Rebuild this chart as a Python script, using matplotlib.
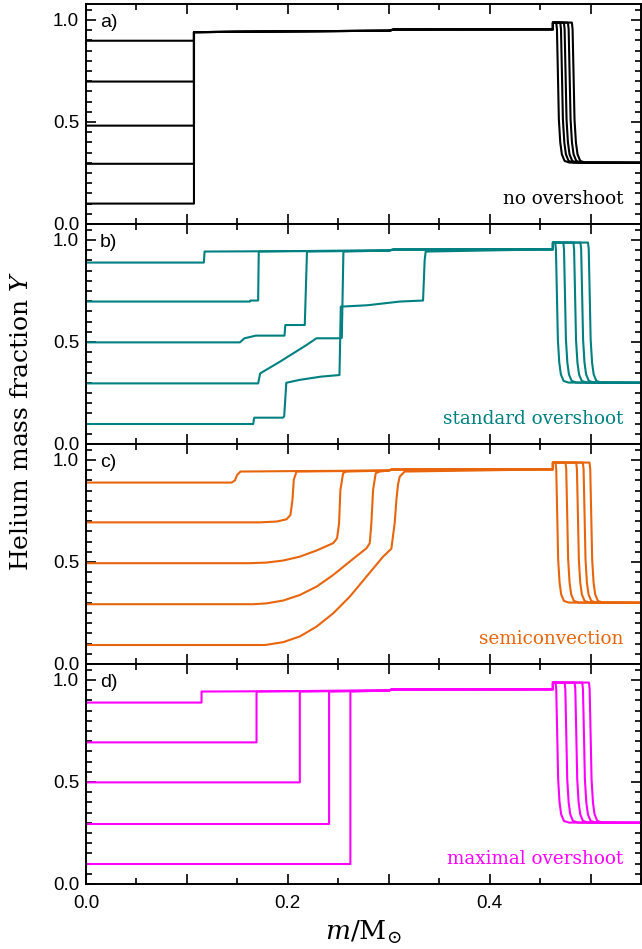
import matplotlib
matplotlib.use('Agg')
import matplotlib.pyplot as plt
from matplotlib.ticker import MultipleLocator, FuncFormatter

plt.rcParams['mathtext.fontset'] = 'dejavuserif'

# inner (core) part of each profile, one list per curve
noov_x = [[0, 0.107, 0.107], [0, 0.107, 0.107], [0, 0.107, 0.107],
          [0, 0.107, 0.107], [0, 0.107, 0.107]]
noov_y = [[0.898, 0.898, 0.940], [0.698, 0.698, 0.940], [0.482, 0.482, 0.940],
          [0.295, 0.295, 0.940], [0.100, 0.100, 0.940]]

std_x = [[0, 0.1168, 0.1175],
         [0, 0.1624, 0.163, 0.1706, 0.1712],
         [0, 0.1525, 0.157, 0.1683, 0.1967, 0.1975, 0.2168, 0.2190],
         [0, 0.1706, 0.1726, 0.1921, 0.2053, 0.2185, 0.2284, 0.2515, 0.2535, 0.2551],
         [0, 0.1657, 0.1667, 0.1950, 0.1964, 0.1985, 0.2115, 0.2327, 0.2512, 0.2525,
          0.2792, 0.311, 0.334, 0.3356, 0.3366]]
std_y = [[0.889, 0.889, 0.943],
         [0.698, 0.698, 0.703, 0.703, 0.943],
         [0.498, 0.498, 0.518, 0.531, 0.531, 0.583, 0.583, 0.943],
         [0.297, 0.297, 0.346, 0.403, 0.444, 0.485, 0.518, 0.518, 0.52, 0.943],
         [0.098, 0.098, 0.129, 0.129, 0.135, 0.300, 0.314, 0.330, 0.338, 0.673,
          0.680, 0.698, 0.703, 0.900, 0.943]]

semi_x = [[0, 0.1442, 0.1475, 0.1498, 0.1531],
          [0, 0.1723, 0.1888, 0.1987, 0.2026, 0.2046, 0.2059, 0.2086],
          [0, 0.1624, 0.1788, 0.1954, 0.2119, 0.2284, 0.2449, 0.2488, 0.2508,
           0.2521, 0.2548, 0.2581],
          [0, 0.1657, 0.1788, 0.1954, 0.2119, 0.2284, 0.2449, 0.2614, 0.2779,
           0.2812, 0.2828, 0.2845, 0.2871, 0.2911],
          [0, 0.1756, 0.1788, 0.1954, 0.2119, 0.2284, 0.2449, 0.2614, 0.2779,
           0.2944, 0.3026, 0.3059, 0.3076, 0.3092, 0.3109, 0.3158]]
semi_y = [[0.889, 0.889, 0.899, 0.927, 0.943],
          [0.694, 0.694, 0.698, 0.709, 0.730, 0.804, 0.902, 0.943],
          [0.494, 0.494, 0.497, 0.507, 0.526, 0.556, 0.592, 0.616, 0.690,
           0.853, 0.935, 0.943],
          [0.293, 0.293, 0.297, 0.311, 0.338, 0.379, 0.436, 0.502, 0.567,
           0.592, 0.690, 0.853, 0.935, 0.943],
          [0.093, 0.093, 0.094, 0.107, 0.135, 0.183, 0.248, 0.330, 0.428,
           0.526, 0.565, 0.690, 0.804, 0.880, 0.918, 0.943]]

max_x = [[0, 0.1145, 0.1145], [0, 0.169, 0.169], [0, 0.2119, 0.2119],
         [0, 0.2409, 0.2409], [0, 0.2620, 0.2620]]
max_y = [[0.889, 0.889, 0.943], [0.694, 0.694, 0.943], [0.498, 0.498, 0.943],
         [0.294, 0.294, 0.943], [0.098, 0.098, 0.943]]

# helium-rich plateau up to the step at the burning shell
plat_x = [[0.107, 0.20, 0.30, 0.305, 0.4627, 0.4627],
          [0.1175, 0.20, 0.30, 0.305, 0.4627, 0.4627],
          [0.1531, 0.20, 0.30, 0.303, 0.4627, 0.4627],
          [0.1145, 0.20, 0.30, 0.303, 0.4627, 0.4627]]
plat_y = [[0.940, 0.944, 0.947, 0.953, 0.954, 0.987],
          [0.943, 0.945, 0.948, 0.953, 0.954, 0.987],
          [0.943, 0.945, 0.948, 0.953, 0.954, 0.987],
          [0.943, 0.945, 0.948, 0.953, 0.954, 0.987]]

# where each profile drops to the envelope value
drop_x0 = [[0.466, 0.470, 0.4736, 0.4776, 0.4815],
           [0.465, 0.473, 0.483, 0.490, 0.4975],
           [0.4653, 0.4752, 0.4858, 0.4924, 0.499],
           [0.4653, 0.4743, 0.4842, 0.4918, 0.4984]]
drop_dx = [0.0, 0.0007, 0.0017, 0.0026, 0.0040, 0.0056, 0.0083, 0.0132]
drop_y = [0.987, 0.954, 0.725, 0.513, 0.399, 0.341, 0.309, 0.301]
env_y = 0.30
x_max = 0.55

labels = ['no overshoot', 'standard overshoot', 'semiconvection', 'maximal overshoot']
tags = ['a)', 'b)', 'c)', 'd)']
colors = ['black', '#008080', '#e8650c', '#ff00ff']
cores_x = [noov_x, std_x, semi_x, max_x]
cores_y = [noov_y, std_y, semi_y, max_y]

fig, axs = plt.subplots(4, 1, figsize=(6.42, 9.49), dpi=100, sharex=True)
plt.subplots_adjust(left=86/642, right=641/642, top=1-4/949, bottom=1-884/949, hspace=0)

for p, ax in enumerate(axs):
    c = colors[p]
    for i in range(5):
        cx = list(cores_x[p][i])
        cy = list(cores_y[p][i])
        x_end = cx[-1]
        for px, py in zip(plat_x[p], plat_y[p]):
            if px > x_end:
                cx.append(px)
                cy.append(py)
        x0 = drop_x0[p][i]
        cx += [x0 + d for d in drop_dx] + [x_max]
        cy += drop_y + [env_y]
        ax.plot(cx, cy, color=c, lw=1.5, solid_joinstyle='round')

    ax.set_xlim(0, x_max)
    ax.set_ylim(0, 1.078)
    ax.yaxis.set_major_locator(MultipleLocator(0.5))
    ax.yaxis.set_minor_locator(MultipleLocator(0.05))
    ax.xaxis.set_major_locator(MultipleLocator(0.1))
    ax.xaxis.set_minor_locator(MultipleLocator(0.05))
    ax.xaxis.set_major_formatter(FuncFormatter(
        lambda v, pos: '%.1f' % v if round(v * 10) % 2 == 0 else ''))
    ax.yaxis.set_major_formatter(FuncFormatter(lambda v, pos: '%.1f' % v))
    ax.tick_params(which='both', direction='in', top=True, right=True,
                   width=1.2, labelsize=13.5)
    ax.tick_params(which='major', length=7)
    ax.tick_params(which='minor', length=4)
    ax.tick_params(axis='y', pad=5)
    ax.tick_params(axis='x', pad=8)
    for lab in ax.get_xticklabels() + ax.get_yticklabels():
        lab.set_family('Liberation Sans')
    for s in ax.spines.values():
        s.set_linewidth(1.4)

    ax.text(0.025, 0.915, tags[p], transform=ax.transAxes, ha='left', va='center',
            fontsize=14, family='Liberation Sans')
    ax.text(0.968, 0.09, labels[p], transform=ax.transAxes, ha='right', va='baseline',
            fontsize=13.2, family='DejaVu Serif', color=c)

axs[-1].set_xlabel(r'$m/\mathrm{M}_{\odot}$', fontsize=19, labelpad=5)
fig.text(0.034, 1 - 421/949, r'Helium mass fraction $Y$', rotation=90,
         ha='center', va='center', fontsize=18, family='DejaVu Serif')

plt.savefig('out.png', dpi=100)
plt.close()
